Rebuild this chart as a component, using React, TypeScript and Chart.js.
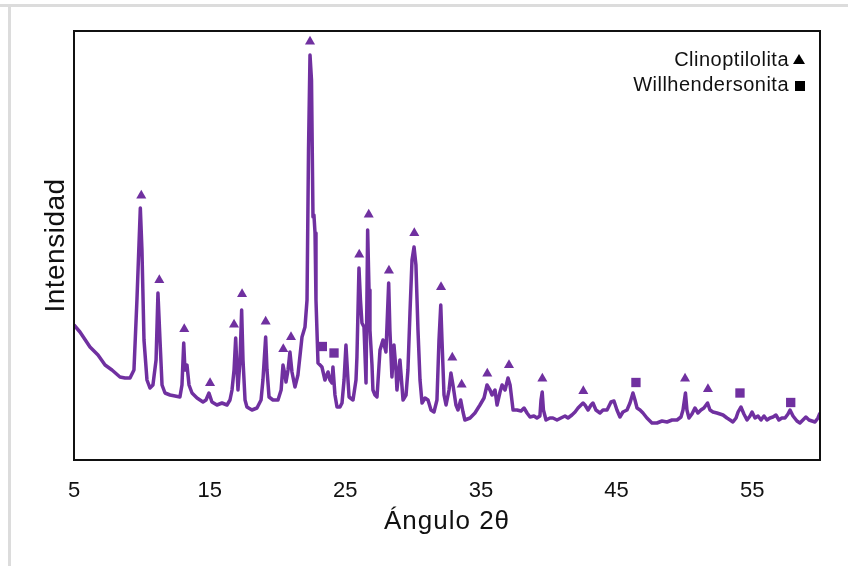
import React, { useEffect, useRef } from "react";
import { Chart, registerables } from "chart.js";

Chart.register(...registerables);

// 2θ (degrees)
const angle2Theta = [
  5.0, 5.44, 6.18, 6.77, 7.29, 7.8, 8.39, 8.76, 9.13, 9.42, 9.64, 9.89, 10.01, 10.16, 10.38, 10.6, 10.82,
  11.05, 11.19, 11.34, 11.49, 11.71, 12.08, 12.45, 12.81, 12.96, 13.09, 13.18, 13.33, 13.48, 13.7, 14.07,
  14.51, 14.73, 14.95, 15.17, 15.54, 15.91, 16.28, 16.5, 16.65, 16.8, 16.92, 17.02, 17.09, 17.24, 17.36,
  17.46, 17.61, 17.75, 18.12, 18.49, 18.79, 18.93, 19.13, 19.23, 19.38, 19.67, 20.04, 20.27, 20.41, 20.56,
  20.63, 20.78, 20.92, 21.07, 21.29, 21.51, 21.81, 22.03, 22.18, 22.29, 22.4, 22.51, 22.62, 22.69, 22.77,
  22.84, 22.99, 23.14, 23.28, 23.5, 23.73, 23.87, 24.02, 24.09, 24.24, 24.39, 24.61, 24.76, 24.91, 25.05,
  25.2, 25.28, 25.57, 25.79, 25.86, 26.01, 26.12, 26.23, 26.38, 26.53, 26.65, 26.75, 26.82, 26.97, 27.04,
  27.19, 27.34, 27.56, 27.78, 28.0, 28.2, 28.29, 28.44, 28.59, 28.74, 28.81, 29.03, 29.26, 29.48, 29.62,
  29.77, 29.92, 30.07, 30.21, 30.36, 30.51, 30.66, 30.88, 31.1, 31.32, 31.54, 31.76, 31.91, 32.04, 32.13,
  32.28, 32.43, 32.65, 32.79, 32.94, 33.16, 33.31, 33.51, 33.68, 33.82, 34.2, 34.56, 34.93, 35.23, 35.45,
  35.67, 35.82, 36.04, 36.19, 36.41, 36.56, 36.78, 37.0, 37.15, 37.37, 37.66, 37.96, 38.18, 38.4, 38.62,
  38.91, 39.13, 39.35, 39.43, 39.52, 39.61, 39.8, 40.09, 40.31, 40.61, 40.9, 41.2, 41.42, 41.71, 41.94,
  42.16, 42.38, 42.53, 42.67, 42.9, 43.12, 43.26, 43.48, 43.78, 44.0, 44.3, 44.59, 44.81, 45.03, 45.25,
  45.47, 45.77, 45.99, 46.21, 46.36, 46.51, 46.73, 46.95, 47.24, 47.61, 47.98, 48.35, 48.72, 49.09, 49.46,
  49.75, 49.9, 50.08, 50.19, 50.34, 50.56, 50.78, 51.0, 51.22, 51.44, 51.71, 51.89, 52.11, 52.4, 52.63,
  52.85, 53.14, 53.37, 53.58, 53.81, 53.96, 54.17, 54.39, 54.62, 54.84, 54.99, 55.21, 55.43, 55.65, 55.87,
  56.09, 56.31, 56.53, 56.75, 56.97, 57.19, 57.42, 57.64, 57.79, 58.01, 58.3, 58.52, 58.74, 58.96, 59.19,
  59.41, 59.63, 59.85, 60.0,
];

// Intensity (a.u.)
const intensity = [
  135, 128, 113, 105, 95, 90, 83, 82, 82, 90, 160, 252, 210, 120, 80, 72, 75,
  100, 167, 120, 75, 67, 65, 64, 63, 75, 117, 90, 95, 75, 67, 62,
  58, 60, 67, 58, 55, 57, 55, 60, 70, 90, 122, 90, 70, 100, 150,
  100, 60, 53, 50, 52, 60, 80, 123, 90, 63, 60, 60, 70, 95, 85,
  78, 90, 108, 88, 73, 85, 123, 133, 160, 310, 405, 380, 243, 245, 227,
  160, 97, 95, 93, 80, 88, 80, 77, 93, 65, 53, 53, 57, 80, 115,
  80, 63, 60, 80, 103, 192, 160, 137, 133, 77, 230, 170, 130, 95, 70,
  65, 63, 110, 120, 108, 177, 130, 83, 115, 90, 70, 100, 60, 65, 90,
  147, 200, 213, 195, 130, 80, 57, 62, 60, 50, 48, 60, 120, 155, 120,
  65, 55, 70, 87, 75, 55, 50, 60, 48, 40, 42, 47, 55, 62, 75,
  70, 65, 70, 55, 68, 75, 70, 82, 75, 50, 50, 49, 52, 47, 43,
  44, 42, 44, 60, 68, 50, 40, 42, 42, 40, 42, 44, 42, 45, 48,
  52, 55, 57, 55, 50, 55, 57, 50, 47, 50, 50, 58, 59, 50, 43,
  48, 50, 57, 67, 60, 52, 50, 47, 42, 37, 37, 39, 38, 40, 40,
  43, 50, 67, 50, 42, 46, 52, 47, 50, 52, 57, 50, 48, 47, 46,
  45, 42, 40, 38, 42, 48, 53, 46, 40, 44, 48, 42, 44, 40, 44,
  40, 42, 43, 45, 40, 42, 42, 46, 50, 44, 39, 37, 40, 43, 40,
  39, 38, 42, 47,
];

// Peak markers
const clinoX = [9.96, 11.29, 13.13, 15.03, 16.8, 17.39, 19.13, 20.43, 21.0, 22.4, 26.03, 26.73, 28.22, 30.09, 32.06, 32.89, 33.58, 35.47, 37.07, 39.53, 42.55, 50.05, 51.74];
const clinoY = [264.5, 180, 131, 77, 135.5, 166, 138.5, 111, 123, 418.5, 205.5, 245.5, 189.5, 227, 173, 102.5, 75.5, 86.5, 95, 81.5, 69, 81.5, 71];
const willX = [23.31, 24.17, 46.43, 54.1, 57.84];
const willY = [113.5, 107, 77.5, 67, 57.5];

const xTicks = [5, 15, 25, 35, 45, 55];
const xTitle = "Ángulo 2θ";
const yTitle = "Intensidad";
const legendLabels = ["Clinoptilolita", "Willhendersonita"];

const PURPLE = "#7030A0";
const FONT = "'Liberation Sans', Arial, sans-serif";

export default function App() {
  const ref = useRef<HTMLCanvasElement | null>(null);

  useEffect(() => {
    if (!ref.current) return;

    const decor = {
      id: "decor",
      beforeDraw(chart: any) {
        const ctx = chart.ctx;
        ctx.save();
        ctx.fillStyle = "#ffffff";
        ctx.fillRect(0, 0, chart.width, chart.height);
        ctx.fillStyle = "#dcdcdc";
        ctx.fillRect(0, 4, chart.width, 3);
        ctx.fillRect(8, 4, 3, chart.height);
        ctx.restore();
      },
      afterDraw(chart: any) {
        const ctx = chart.ctx;
        const a = chart.chartArea;
        ctx.save();
        ctx.strokeStyle = "#111";
        ctx.lineWidth = 2;
        ctx.strokeRect(a.left, a.top, a.right - a.left, a.bottom - a.top);

        ctx.fillStyle = "#111";
        // x title
        ctx.font = `26px ${FONT}`;
        (ctx as any).letterSpacing = "1px";
        ctx.textAlign = "center";
        ctx.textBaseline = "middle";
        ctx.fillText(xTitle, (a.left + a.right) / 2, 522);
        // y title
        ctx.save();
        ctx.translate(56, (a.top + a.bottom) / 2);
        ctx.rotate(-Math.PI / 2);
        ctx.font = `28px ${FONT}`;
        (ctx as any).letterSpacing = "0.5px";
        ctx.fillText(yTitle, 0, 0);
        ctx.restore();

        // legend
        ctx.font = `20px ${FONT}`;
        (ctx as any).letterSpacing = "0.5px";
        ctx.textAlign = "right";
        ctx.textBaseline = "alphabetic";
        const rx = a.right - 31;
        const y1 = a.top + 35;
        const y2 = y1 + 25;
        ctx.fillText(legendLabels[0], rx, y1);
        ctx.fillText(legendLabels[1], rx, y2);
        (ctx as any).letterSpacing = "0px";
        ctx.fillStyle = "#000";
        ctx.beginPath();
        ctx.moveTo(rx + 4, y1 - 2);
        ctx.lineTo(rx + 16, y1 - 2);
        ctx.lineTo(rx + 10, y1 - 12);
        ctx.closePath();
        ctx.fill();
        ctx.fillRect(rx + 6, y2 - 10, 10, 10);
        ctx.restore();
      },
    };

    const chart = new Chart(ref.current, {
      type: "line",
      data: {
        datasets: [
          {
            label: "XRD",
            data: angle2Theta.map((x, i) => ({ x, y: intensity[i] })),
            borderColor: PURPLE,
            borderWidth: 3.5,
            pointRadius: 0,
            tension: 0,
            fill: false,
            borderJoinStyle: "round",
            order: 2,
          } as any,
          {
            type: "scatter",
            label: legendLabels[0],
            data: clinoX.map((x, i) => ({ x, y: clinoY[i] })),
            pointStyle: "triangle",
            pointRadius: 5.8,
            backgroundColor: PURPLE,
            borderWidth: 0,
            clip: false,
            order: 1,
          } as any,
          {
            type: "scatter",
            label: legendLabels[1],
            data: willX.map((x, i) => ({ x, y: willY[i] })),
            pointStyle: "rect",
            pointRadius: 6.6,
            backgroundColor: PURPLE,
            borderWidth: 0,
            clip: false,
            order: 1,
          } as any,
        ],
      },
      options: {
        animation: false,
        responsive: true,
        maintainAspectRatio: false,
        layout: { padding: { left: 74, right: 28, top: 31, bottom: 0 } },
        plugins: { legend: { display: false }, tooltip: { enabled: false } },
        scales: {
          x: {
            type: "linear",
            min: 5,
            max: 60,
            grid: { display: false, drawTicks: false },
            border: { display: false },
            afterBuildTicks: (s: any) => {
              s.ticks = xTicks.map((v) => ({ value: v }));
            },
            afterFit: (s: any) => {
              s.height = 106;
            },
            ticks: {
              color: "#111",
              padding: 18,
              maxRotation: 0,
              font: { size: 22, family: FONT },
            },
          },
          y: {
            type: "linear",
            min: 0,
            max: 429,
            display: false,
          },
        },
      },
      plugins: [decor],
    });

    return () => chart.destroy();
  }, []);

  return (
    <div style={{ position: "fixed", left: 0, top: 0, width: 848, height: 566, background: "#fff" }}>
      <canvas ref={ref} />
    </div>
  );
}
